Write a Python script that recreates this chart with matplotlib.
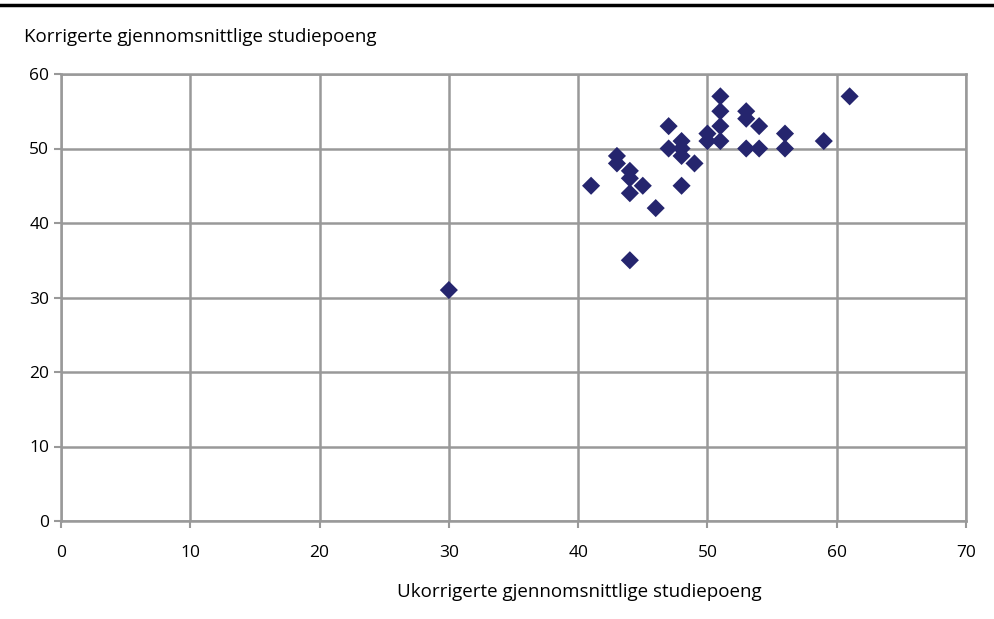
import matplotlib.pyplot as plt

# Ukorrigerte vs korrigerte gjennomsnittlige studiepoeng
ukorrigert = [30, 41, 43, 43, 44, 44, 44, 44, 45, 46, 47, 47, 48, 48, 48, 48,
              49, 50, 50, 51, 51, 51, 51, 53, 53, 53, 54, 54, 56, 56, 59, 61]
korrigert = [31, 45, 49, 48, 47, 46, 44, 35, 45, 42, 53, 50, 51, 50, 49, 45,
             48, 52, 51, 57, 55, 53, 51, 55, 54, 50, 53, 50, 52, 50, 51, 57]

x_ticks = [0, 10, 20, 30, 40, 50, 60, 70]
y_ticks = [0, 10, 20, 30, 40, 50, 60]

plt.rcParams['font.family'] = ['Open Sans', 'DejaVu Sans']

fig = plt.figure(figsize=(9.95, 6.19), dpi=100)
ax = fig.add_axes([61 / 995, 1 - 521 / 619, (966 - 61) / 995, (521 - 74) / 619])

grid_col = '#999999'
ax.scatter(ukorrigert, korrigert, marker='D', s=85, color='#25256e',
           edgecolors='none', zorder=3)

ax.set_xlim(0, 70)
ax.set_ylim(0, 60)
ax.set_xticks(x_ticks)
ax.set_yticks(y_ticks)
ax.grid(True, color=grid_col, linewidth=1.8)
ax.set_axisbelow(True)
for sp in ax.spines.values():
    sp.set_color(grid_col)
    sp.set_linewidth(1.8)
ax.tick_params(colors=grid_col, labelcolor='black', labelsize=12.5,
               length=5, width=1.5, direction='out')
ax.tick_params(axis='x', pad=12)

fig.text(24 / 995, 1 - 37 / 619, 'Korrigerte gjennomsnittlige studiepoeng',
         fontsize=13.5, va='center', ha='left')
fig.text(579 / 995, 1 - 592 / 619, 'Ukorrigerte gjennomsnittlige studiepoeng',
         fontsize=13.5, va='center', ha='center')

# black line across the top
fig.add_artist(plt.Line2D([0, 1], [1 - 5 / 619, 1 - 5 / 619], color='black',
                          linewidth=2.5, transform=fig.transFigure))

fig.savefig('out.png', dpi=100)
